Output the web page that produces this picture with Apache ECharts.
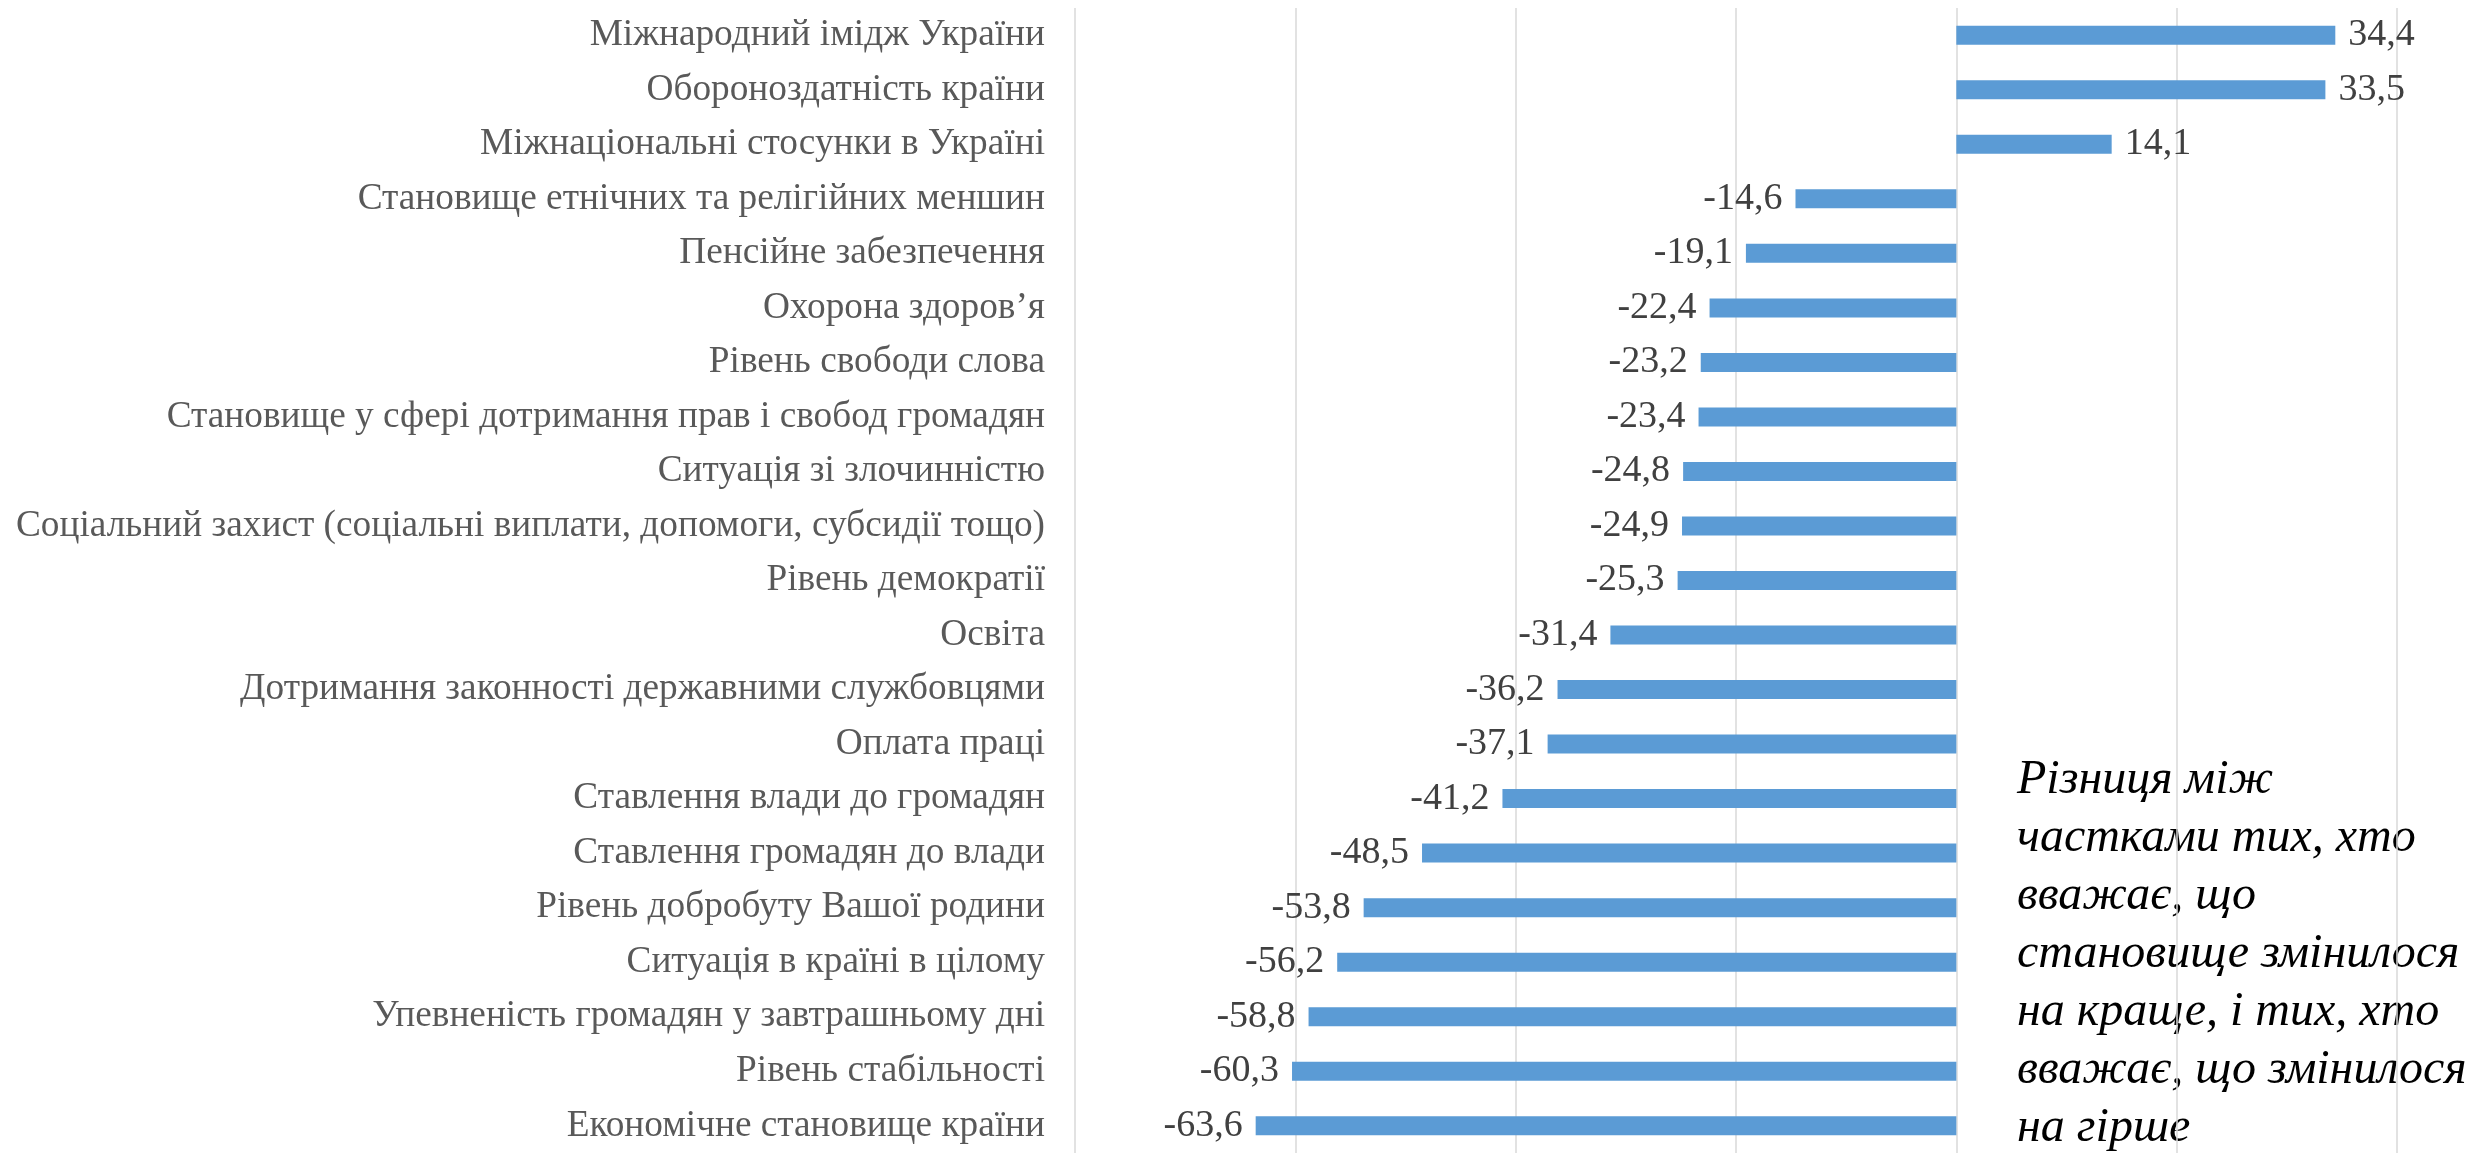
<!DOCTYPE html>
<html><head><meta charset="utf-8">
<style>html,body{margin:0;padding:0;background:#fff}#c{width:2471px;height:1153px}</style>
<script src="https://cdn.jsdelivr.net/npm/echarts@6/dist/echarts.min.js"></script>
</head><body><div id="c"></div>
<script>
const categories = [
  'Міжнародний імідж України',
  'Обороноздатність країни',
  'Міжнаціональні стосунки в Україні',
  'Становище етнічних та релігійних меншин',
  'Пенсійне забезпечення',
  'Охорона здоров’я',
  'Рівень свободи слова',
  'Становище у сфері дотримання прав і свобод громадян',
  'Ситуація зі злочинністю',
  'Соціальний захист (соціальні виплати, допомоги, субсидії тощо)',
  'Рівень демократії',
  'Освіта',
  'Дотримання законності державними службовцями',
  'Оплата праці',
  'Ставлення влади до громадян',
  'Ставлення громадян до влади',
  'Рівень добробуту Вашої родини',
  'Ситуація в країні в цілому',
  'Упевненість громадян у завтрашньому дні',
  'Рівень стабільності',
  'Економічне становище країни'
];
const values = [34.4, 33.5, 14.1, -14.6, -19.1, -22.4, -23.2, -23.4, -24.8, -24.9, -25.3, -31.4, -36.2, -37.1, -41.2, -48.5, -53.8, -56.2, -58.8, -60.3, -63.6];
const annotationLines = [
  'Різниця між',
  'частками тих, хто',
  'вважає, що',
  'становище змінилося',
  'на краще, і тих, хто',
  'вважає, що змінилося',
  'на гірше'
];

const chart = echarts.init(document.getElementById('c'), null, {renderer: 'canvas'});
const font = 'Liberation Serif';
chart.setOption({
  animation: false,
  grid: {left: 1075, top: 8, width: 1322, height: 1151, containLabel: false},
  xAxis: {
    type: 'value', min: -80, max: 40, interval: 20,
    axisLabel: {show: false}, axisTick: {show: false}, axisLine: {show: false},
    splitLine: {show: true, lineStyle: {color: '#D9D9D9', width: 1.5}}
  },
  yAxis: {
    type: 'category', data: categories, inverse: true,
    axisTick: {show: false},
    axisLine: {show: false},
    axisLabel: {color: '#595959', fontFamily: font, fontSize: 37.3, margin: 30}
  },
  series: [{
    type: 'bar', barWidth: 19,
    itemStyle: {color: '#5B9BD5'},
    data: values.map(v => ({
      value: v,
      label: {position: v >= 0 ? 'right' : 'left'}
    })),
    label: {
      show: true, distance: 13, color: '#404040', fontFamily: font, fontSize: 38,
      formatter: p => String(p.value).replace('.', ',')
    }
  }],
  graphic: [{
    type: 'text', left: 2017, top: 751,
    style: {
      text: annotationLines.join('\n'),
      fontFamily: font, fontStyle: 'italic', fontSize: 48,
      fill: '#000', lineHeight: 58
    }
  }]
});
</script></body></html>
